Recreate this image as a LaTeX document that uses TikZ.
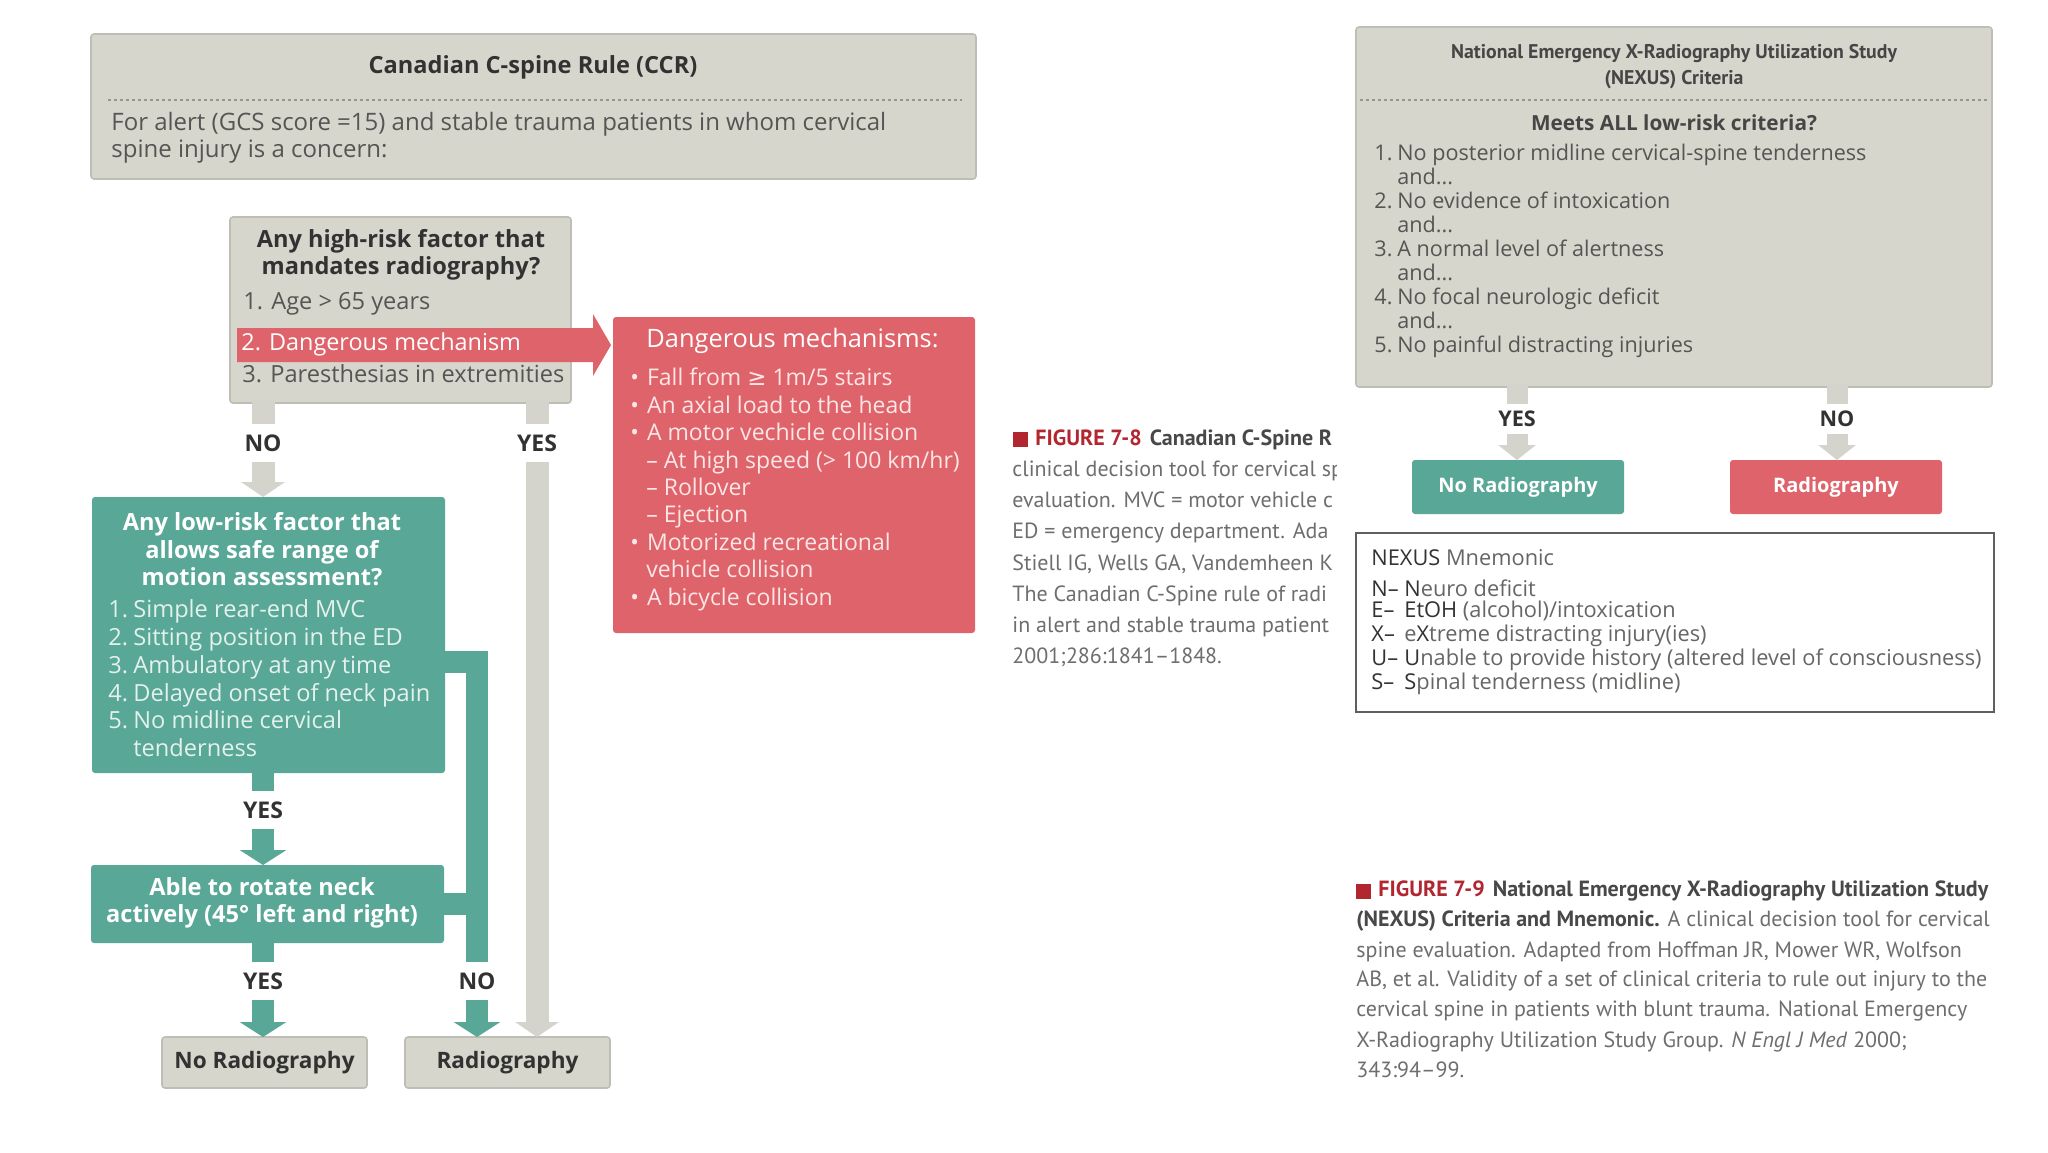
\documentclass[tikz,border=0pt]{standalone}
\usepackage{fontspec}
\setmainfont{Open Sans}
\newfontfamily\ptsans{PT Sans}
\newfontfamily\symfont{DejaVu Sans}
\usetikzlibrary{arrows.meta}
\definecolor{boxgray}{RGB}{214,214,205}
\definecolor{boxedge}{RGB}{190,190,182}
\definecolor{arrgray}{RGB}{212,212,204}
\definecolor{dashcol}{RGB}{150,150,145}
\definecolor{ccteal}{RGB}{88,167,151}
\definecolor{ccred}{RGB}{223,99,106}
\definecolor{txtdark}{RGB}{50,50,50}
\definecolor{txtgray}{RGB}{85,85,83}
\definecolor{tealtxt}{RGB}{228,241,237}
\definecolor{redtxt}{RGB}{252,230,230}
\definecolor{capred}{RGB}{178,38,48}
\definecolor{capgray}{RGB}{110,110,110}
\definecolor{capdark}{RGB}{72,72,72}
\definecolor{mnedge}{RGB}{95,95,95}
\tikzset{
  box/.style={anchor=north west, inner sep=0pt, outer sep=0pt, rounded corners=1.5pt},
  graybox/.style={box, fill=boxgray, draw=boxedge, line width=0.8pt},
  tealbox/.style={box, fill=ccteal},
  redbox/.style={box, fill=ccred},
  mnbox/.style={box, fill=white, draw=mnedge, line width=0.9pt, rounded corners=0pt},
  txt/.style={inner sep=0pt, anchor=mid west, font=\fontsize{11.5}{13}\selectfont},
  hd/.style={inner sep=0pt, anchor=mid, font=\bfseries\fontsize{11.8}{13}\selectfont, text=txtdark},
  graytxt/.style={txt, text=txtgray, font=\fontsize{11.8}{13}\selectfont},
  ccrtxt/.style={txt, text=txtgray, font=\fontsize{12}{13}\selectfont},
  whitehd/.style={hd, text=white, font=\bfseries\fontsize{11.8}{13}\selectfont},
  tealitem/.style={txt, text=tealtxt, font=\fontsize{11.8}{13}\selectfont},
  reditem/.style={txt, text=redtxt, font=\fontsize{11.5}{13}\selectfont},
  lbl/.style={inner sep=0pt, minimum height=19pt, font=\bfseries\fontsize{11.5}{12}\selectfont, text=txtdark},
  gstub/.style={draw=arrgray, line width=11.5pt},
  garrow/.style={gstub, -{Triangle[width=21.5pt,length=7.5pt]}},
  nstub/.style={draw=arrgray, line width=10.5pt},
  narrow/.style={nstub, -{Triangle[width=18.5pt,length=7.5pt]}},
  tstub/.style={draw=ccteal, line width=11pt},
  tarrow/.style={tstub, -{Triangle[width=23pt,length=7.5pt]}},
  nxhd/.style={hd, font=\ptsans\bfseries\fontsize{9.9}{12}\selectfont, text=txtdark!90},
  nxtxt/.style={txt, text=txtgray, font=\fontsize{10.8}{12}\selectfont},
  mntxt/.style={txt, text=txtgray!90, font=\fontsize{10.9}{12}\selectfont},
  captxt/.style={txt, text=capgray, font=\ptsans\fontsize{11}{12}\selectfont},
  dotline/.style={draw=dashcol, dash pattern=on 1.5pt off 1.5pt, line width=0.6pt},
}
\newcommand{\dk}[1]{\textcolor{txtdark}{#1}}
\newcommand{\mnl}[1]{\makebox[16.5pt][l]{\dk{#1}}}
\newcommand{\nxn}[1]{\makebox[11.5pt][l]{#1}}
\newcommand{\ltn}[1]{\makebox[12.5pt][l]{#1}}
\begin{document}
\begin{tikzpicture}[x=0.5pt,y=-0.5pt]
\fill[white] (0,0) rectangle (2048,1152);
\useasboundingbox (0,0) rectangle (2048,1152);

% ---------- CCR header
\node[graybox, minimum width=442.5pt, minimum height=72.5pt] (ccr) at (91,34) {};
\node[hd] (ccrT) at (533,68) {Canadian C-spine Rule (CCR)};
\draw[dotline] (108,100) -- (962,100);
\node[ccrtxt] (ccr1) at (111,125) {For alert (GCS score =15) and stable trauma patients in whom cervical};
\node[ccrtxt] (ccr2) at (111,152) {spine injury is a concern:};

% ---------- high-risk box
\node[graybox, minimum width=170.5pt, minimum height=93pt] (hr) at (230,217) {};
\node[hd] (hrT1) at (401,242) {Any high-risk factor that};
\node[hd] (hrT2) at (401,269) {mandates radiography?};
\node[graytxt] (hr1) at (243,304) {1. Age > 65 years};
\fill[ccred] (237,328) -- (593,328) -- (593,314) -- (611,345) -- (593,376) -- (593,362) -- (237,362) -- cycle;
\node[txt, text=white, font=\fontsize{11.7}{13}\selectfont] (hr2) at (241,345) {2. Dangerous mechanism};
\node[graytxt] (hr3) at (242,377) {3. Paresthesias in extremities};

% ---------- dangerous mechanisms box
\node[redbox, minimum width=181pt, minimum height=158pt] (dm) at (613,317) {};
\node[txt, text=white, font=\fontsize{12.7}{14}\selectfont] (dmT) at (646,342) {Dangerous mechanisms:};
\node[reditem] (dm1) at (630,380) {•\hspace{4pt}Fall from {\symfont ≥} 1m/5 stairs};
\node[reditem] (dm2) at (630,408) {•\hspace{4pt}An axial load to the head};
\node[reditem] (dm3) at (630,435) {•\hspace{4pt}A motor vechicle collision};
\node[reditem] (dm4) at (646,463) {– At high speed (> 100 km/hr)};
\node[reditem] (dm5) at (646,490) {– Rollover};
\node[reditem] (dm6) at (646,517) {– Ejection};
\node[reditem] (dm7) at (630,545) {•\hspace{4pt}Motorized recreational};
\node[reditem] (dm8) at (646,572) {vehicle collision};
\node[reditem] (dm9) at (630,600) {•\hspace{4pt}A bicycle collision};

% ---------- low-risk box
\node[tealbox, minimum width=176.5pt, minimum height=138pt] (lr) at (92,497) {};
\node[whitehd] (lrT1) at (262,525) {Any low-risk factor that};
\node[whitehd] (lrT2) at (262,553) {allows safe range of};
\node[whitehd] (lrT3) at (262,580) {motion assessment?};
\node[tealitem] (lr1) at (108,612) {\ltn{1.}Simple rear-end MVC};
\node[tealitem] (lr2) at (108,640) {\ltn{2.}Sitting position in the ED};
\node[tealitem] (lr3) at (108,668) {\ltn{3.}Ambulatory at any time};
\node[tealitem] (lr4) at (108,696) {\ltn{4.}Delayed onset of neck pain};
\node[tealitem] (lr5) at (108,723) {\ltn{5.}No midline cervical};
\node[tealitem] (lr6) at (133,751) {tenderness};

% ---------- rotate box
\node[tealbox, minimum width=176.5pt, minimum height=39pt] (rot) at (91,865) {};
\node[whitehd] (rotT1) at (262,890) {Able to rotate neck};
\node[whitehd] (rotT2) at (262,917) {actively (45° left and right)};

% ---------- outcome boxes (left)
\node[graybox, minimum width=102.5pt, minimum height=25.5pt, font=\bfseries\fontsize{11.3}{13}\selectfont, text=txtdark] (nr1) at (162,1037) {No Radiography};
\node[graybox, minimum width=102.5pt, minimum height=25.5pt, font=\bfseries\fontsize{11.3}{13}\selectfont, text=txtdark] (r1) at (405,1037) {Radiography};

% ---------- left connectors
\node[lbl] (noA) at (263,443) {NO};
\node[lbl] (yesA) at (537,443) {YES};
\draw[gstub] ([yshift=1.5pt]hr.south -| noA) -- (noA.north);
\draw[garrow] (noA.south) -- (lr.north -| noA);
\draw[gstub] ([yshift=1.5pt]hr.south -| yesA) -- (yesA.north);
\draw[garrow] (yesA.south) -- (r1.north -| yesA);

\node[lbl] (yesB) at (263,810) {YES};
\draw[tstub] ([yshift=1pt]lr.south -| yesB) -- (yesB.north);
\draw[tarrow] (yesB.south) -- (rot.north -| yesB);
\node[lbl] (yesC) at (263,981) {YES};
\draw[tstub] ([yshift=1pt]rot.south -| yesC) -- (yesC.north);
\draw[tarrow] (yesC.south) -- (nr1.north -| yesC);
\node[lbl] (noB) at (477,981) {NO};
\coordinate (lrj) at (0,662);
\draw[tstub] ([xshift=-1pt]lr.east |- lrj) -| (noB.north);
\draw[tstub] ([xshift=-1pt]rot.east) -- (rot.east -| noB);
\draw[tarrow] (noB.south) -- (r1.north -| noB);

% ---------- NEXUS box
\node[graybox, minimum width=318pt, minimum height=180pt] (nx) at (1356,27) {};
\node[nxhd] (nxT1) at (1674,53) {National Emergency X-Radiography Utilization Study};
\node[nxhd] (nxT2) at (1674,79) {(NEXUS) Criteria};
\draw[dotline] (1360,100) -- (1990,100);
\node[hd, font=\bfseries\fontsize{10.4}{12}\selectfont, text=txtdark!90] (nxQ) at (1674,125) {Meets ALL low-risk criteria?};
\node[nxtxt] (nx1) at (1374,155) {\nxn{1.}No posterior midline cervical-spine tenderness};
\node[nxtxt] (nx1a) at (1397,179) {and...};
\node[nxtxt] (nx2) at (1374,203) {\nxn{2.}No evidence of intoxication};
\node[nxtxt] (nx2a) at (1397,227) {and...};
\node[nxtxt] (nx3) at (1374,251) {\nxn{3.}A normal level of alertness};
\node[nxtxt] (nx3a) at (1397,275) {and...};
\node[nxtxt] (nx4) at (1374,299) {\nxn{4.}No focal neurologic deficit};
\node[nxtxt] (nx4a) at (1397,323) {and...};
\node[nxtxt] (nx5) at (1374,347) {\nxn{5.}No painful distracting injuries};

\node[box, fill=ccteal, minimum width=106pt, minimum height=27pt, font=\bfseries\fontsize{10}{12}\selectfont, text=white] (nr2) at (1412,460) {No Radiography};
\node[box, fill=ccred, minimum width=106pt, minimum height=27pt, font=\bfseries\fontsize{10}{12}\selectfont, text=white] (r2) at (1730,460) {Radiography};

\node[lbl, minimum height=15pt, font=\bfseries\fontsize{10.8}{12}\selectfont] (yesN) at (1517,419) {YES};
\node[lbl, minimum height=15pt, font=\bfseries\fontsize{10.8}{12}\selectfont] (noN) at (1837,419) {NO};
\draw[nstub] ([yshift=1.5pt]nx.south -| yesN) -- (yesN.north);
\draw[narrow] (yesN.south) -- (nr2.north -| yesN);
\draw[nstub] ([yshift=1.5pt]nx.south -| noN) -- (noN.north);
\draw[narrow] (noN.south) -- (r2.north -| noN);

% ---------- mnemonic box
\node[mnbox, minimum width=319pt, minimum height=89.5pt] (mn) at (1356,533) {};
\node[mntxt] (mnT) at (1371,560) {\dk{NEXUS} Mnemonic};
\node[mntxt] (mnN) at (1371,591) {\mnl{N–}\dk{N}euro deficit};
\node[mntxt] (mnE) at (1371,612) {\mnl{E–}\dk{EtOH} (alcohol)/intoxication};
\node[mntxt] (mnX) at (1371,636) {\mnl{X–}e\dk{X}treme distracting injury(ies)};
\node[mntxt] (mnU) at (1371,660) {\mnl{U–}\dk{U}nable to provide history (altered level of consciousness)};
\node[mntxt] (mnS) at (1371,684) {\mnl{S–}\dk{S}pinal tenderness (midline)};

% ---------- caption 7-8 (cut off at the right)
\begin{scope}
\clip (1000,400) rectangle (1336,690);
\fill[capred] (1013,432) rectangle (1028,447);
\node[captxt] (c8a) at (1035,440) {\textcolor{capred}{\bfseries FIGURE 7-8}\hspace{4pt}\textcolor{capdark}{\bfseries Canadian C-Spine R}};
\node[captxt] (c8b) at (1012,471) {clinical decision tool for cervical sp};
\node[captxt] (c8c) at (1012,502) {evaluation. MVC = motor vehicle c};
\node[captxt] (c8d) at (1012,533) {ED = emergency department. Ada};
\node[captxt] (c8e) at (1012,565) {Stiell IG, Wells GA, Vandemheen K};
\node[captxt] (c8f) at (1012,596) {The Canadian C-Spine rule of radi};
\node[captxt] (c8g) at (1012,627) {in alert and stable trauma patient};
\node[captxt] (c8h) at (1012,658) {2001;286:1841–1848.};
\end{scope}

% ---------- caption 7-9
\fill[capred] (1356,884) rectangle (1371,899);
\node[captxt] (c9a) at (1378,891) {\textcolor{capred}{\bfseries FIGURE 7-9}\hspace{4pt}\textcolor{capdark}{\bfseries National Emergency X-Radiography Utilization Study}};
\node[captxt] (c9b) at (1356,921) {\textcolor{capdark}{\bfseries (NEXUS) Criteria and Mnemonic.} A clinical decision tool for cervical};
\node[captxt] (c9c) at (1356,952) {spine evaluation. Adapted from Hoffman JR, Mower WR, Wolfson};
\node[captxt] (c9d) at (1356,981) {AB, et al. Validity of a set of clinical criteria to rule out injury to the};
\node[captxt] (c9e) at (1356,1011) {cervical spine in patients with blunt trauma. National Emergency};
\node[captxt] (c9f) at (1356,1042) {X-Radiography Utilization Study Group. \textit{N Engl J Med} 2000;};
\node[captxt] (c9g) at (1356,1072) {343:94–99.};
\end{tikzpicture}
\end{document}
